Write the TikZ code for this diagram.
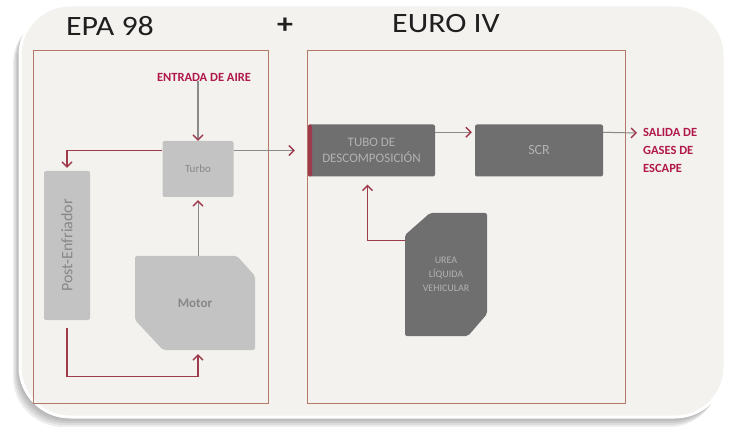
\documentclass[tikz,border=0pt]{standalone}
\usepackage{fontspec}
\usepackage{graphicx}
\setmainfont{Carlito}
\usetikzlibrary{arrows.meta}

\definecolor{fondo}{HTML}{F3F2EF}
\definecolor{marco}{HTML}{B47868}
\definecolor{rojo}{HTML}{9E3A4C}
\definecolor{rotulo}{HTML}{B0184A}
\definecolor{claro}{HTML}{C3C3C3}
\definecolor{oscuro}{HTML}{6F6F6F}
\definecolor{gristxt}{HTML}{878787}
\definecolor{flecha}{HTML}{8A8A8A}

\tikzset{
  titulo/.style={font=\fontsize{28}{30}\selectfont, text=black!88, xscale=1.14},
  rotulo/.style={font=\bfseries\fontsize{12.5}{18}\selectfont, text=rotulo, inner sep=0pt},
  marcobox/.style={draw=marco, line width=0.9pt, inner sep=0pt},
  cajaclara/.style={fill=claro, rounded corners=2pt, text=gristxt, inner sep=0pt},
  cajaoscura/.style={fill=oscuro, rounded corners=2pt, text=black!30, inner sep=0pt, align=center},
  punta/.style={-{Straight Barb[length=5pt,width=10pt,line width=1.4pt,color=rojo]}},
  linea/.style={draw=rojo, line width=1.2pt, punta},
  gris/.style={draw=flecha, line width=1pt, punta}
}

\begin{document}
\begin{tikzpicture}[x=1pt,y=-1pt]
  \useasboundingbox (0,0) rectangle (730,427);

  \foreach \s in {10,8,6,4,2}
    \fill[black, opacity=0.07, rounded corners=50pt]
      ({20-0.7*\s},{5+0.9*\s}) rectangle ({725-0.6*\s},{417+\s});
  \draw[white, line width=3pt, fill=fondo, rounded corners=50pt] (20,5) rectangle (725,417);

  \node[titulo] (epa) at (110,26) {EPA 98};
  \node[titulo] (mas) at (285,26) {\textbf{+}};
  \node[titulo] (euro) at (446,24) {EURO IV};

  \node[marcobox, minimum width=235pt, minimum height=353pt] (marcoepa) at (150.5,226.5) {};
  \node[marcobox, minimum width=318pt, minimum height=353pt] (marcoeuro) at (466,226.5) {};

  \node[rotulo] (entrada) at (204,77) {ENTRADA DE AIRE};
  \node[cajaclara, minimum width=71pt, minimum height=56pt, font=\fontsize{11}{13}\selectfont]
    (turbo) at (198,169) {Turbo};
  \node[cajaclara, minimum width=46pt, minimum height=149pt, font=\fontsize{16}{18}\selectfont]
    (post) at (67,245.5) {\rotatebox{90}{Post-Enfriador}};
  \node[minimum width=120pt, minimum height=94pt, inner sep=0pt, text=gristxt,
    font=\bfseries\fontsize{13}{15}\selectfont,
    path picture={\fill[claro, rounded corners=2pt] (path picture bounding box.north west)
      -- ([xshift=-18pt]path picture bounding box.north east)
      -- ([yshift=-20pt]path picture bounding box.north east)
      -- (path picture bounding box.south east)
      -- ([xshift=28pt]path picture bounding box.south west)
      -- ([yshift=30pt]path picture bounding box.south west) -- cycle;}]
    (motor) at (195,303) {Motor};

  \node[cajaoscura, minimum width=127pt, minimum height=52pt, font=\fontsize{13}{16}\selectfont,
    path picture={\fill[rojo] (path picture bounding box.north west)
      rectangle ([xshift=4pt]path picture bounding box.south west);}]
    (tubo) at (371.5,150.5) {TUBO DE\\DESCOMPOSICIÓN};
  \node[cajaoscura, minimum width=128pt, minimum height=52pt, font=\fontsize{14}{16}\selectfont]
    (scr) at (539,150.5) {SCR};
  \node[minimum width=82pt, minimum height=123pt, inner sep=0pt, text=black!30, align=center,
    font=\fontsize{10}{14}\selectfont,
    path picture={\fill[oscuro, rounded corners=2pt] ([xshift=25pt]path picture bounding box.north west)
      -- (path picture bounding box.north east)
      -- ([yshift=22pt]path picture bounding box.south east)
      -- ([xshift=-19pt]path picture bounding box.south east)
      -- (path picture bounding box.south west)
      -- ([yshift=-22pt]path picture bounding box.north west) -- cycle;}]
    (urea) at (446,274.5) {UREA\\LÍQUIDA\\VEHICULAR};
  \node[rotulo, anchor=north west, align=left] (salida) at (643,128) {SALIDA DE\\GASES DE\\ESCAPE};
  \coordinate (escape) at (637,133);

  \draw[linea, draw=flecha] (entrada.south -| turbo) -- (turbo.north);
  \draw[linea, shorten >=3pt] (turbo.west |- tubo.west) -| (post.north);
  \draw[gris, shorten >=13pt] (turbo.east |- tubo.west) -- (tubo.west);
  \draw[linea, shorten <=8pt, shorten >=4pt] (post.south) -- ++(0,56) -| (motor.south -| turbo);
  \draw[gris, shorten >=3pt] (motor.north -| turbo) -- (turbo.south);
  \draw[gris, shorten >=3pt] ([yshift=-8pt]tubo.north east) -- ([yshift=-8pt]scr.north west);
  \draw[gris] ([yshift=-8pt]scr.north east) -- (escape);
  \draw[linea, shorten >=8pt] ([yshift=-28pt]urea.north west) -| ([xshift=-4pt]tubo.south);
\end{tikzpicture}
\end{document}
